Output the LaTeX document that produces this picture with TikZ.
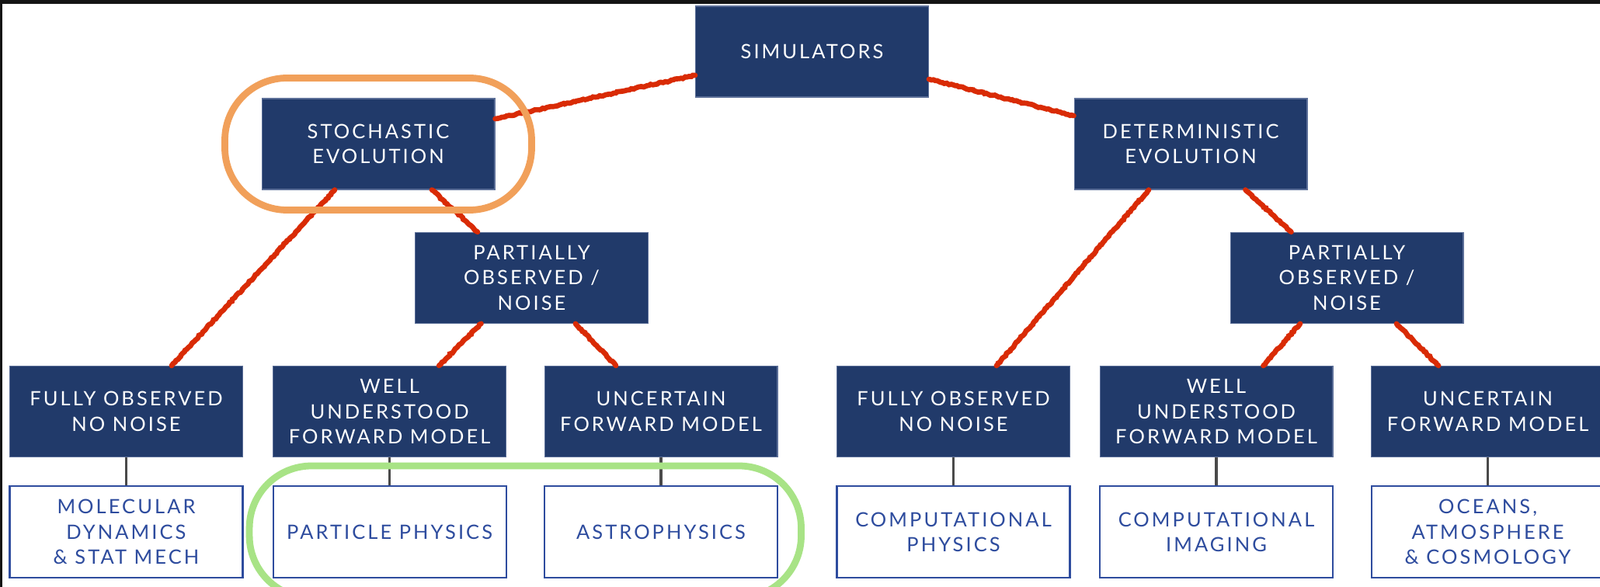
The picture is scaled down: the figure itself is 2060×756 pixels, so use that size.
\documentclass[tikz,border=0pt]{standalone}
\usepackage{fontspec}
\setmainfont{Lato}[LetterSpace=12.0]
\usepackage{tikz}
\usetikzlibrary{positioning,fit,decorations.pathmorphing}

\definecolor{navybox}{HTML}{213A6A}
\definecolor{navyedge}{HTML}{5C6F98}
\definecolor{leafblue}{HTML}{2E4C9E}
\definecolor{crayon}{HTML}{D92B05}
\definecolor{stemgray}{HTML}{4A4A4A}
\definecolor{ringorange}{HTML}{F1A05A}
\definecolor{ringgreen}{HTML}{A8E386}
\definecolor{framedark}{HTML}{141414}

\begin{document}
\begin{tikzpicture}[x=0.02cm, y=-0.02cm,
  cat/.style={draw=navyedge, line width=0.6pt, fill=navybox, text=white,
              minimum width=6cm, minimum height=2.34cm, align=center,
              inner sep=0pt, font=\fontsize{14.5}{18.4}\selectfont},
  leaf/.style={draw=leafblue, line width=1.2pt, fill=white, text=leafblue,
               minimum width=6cm, minimum height=2.36cm, align=center,
               inner sep=0pt, font=\fontsize{14.5}{18.4}\selectfont},
  crayonline/.style={draw=crayon, line width=3.8pt, line cap=round, decorate,
                     decoration={random steps, segment length=1.5pt, amplitude=0.5pt}},
  stem/.style={draw=stemgray, line width=1.8pt},
  ring/.style={draw=#1, line width=5pt, rounded corners=1.6cm, inner sep=0pt},
  node distance=0.72cm
]
  \useasboundingbox (0,0) rectangle (2060,756);
  \clip (0,0) rectangle (2060,756);

  % screen frame
  \fill[framedark] (0,0) rectangle (2060,5);
  \fill[framedark] (0,0) rectangle (3,756);

  % category boxes
  \node[cat] (sim) at (1045.5,66.5) {SIMULATORS};
  \node[cat] (stoch) at (487,185.5) {STOCHASTIC\\EVOLUTION};
  \node[cat] (det) at (1533,185.5) {DETERMINISTIC\\EVOLUTION};
  \node[cat] (poL) at (684.5,357.8) {PARTIALLY\\OBSERVED /\\NOISE};
  \node[cat] (poR) at (1734,357.8) {PARTIALLY\\OBSERVED /\\NOISE};

  \node[cat] (fullL) at (162.5,530) {FULLY OBSERVED\\NO NOISE};
  \node[cat] (wellL) at (501.6,530) {WELL\\UNDERSTOOD\\FORWARD MODEL};
  \node[cat] (uncL) at (851,530) {UNCERTAIN\\FORWARD MODEL};
  \node[cat] (fullR) at (1227.5,530) {FULLY OBSERVED\\NO NOISE};
  \node[cat] (wellR) at (1566,530) {WELL\\UNDERSTOOD\\FORWARD MODEL};
  \node[cat] (uncR) at (1915.6,530) {UNCERTAIN\\FORWARD MODEL};

  % application fields
  \node[leaf, below=of fullL] (molec) {MOLECULAR\\DYNAMICS\\\& STAT MECH};
  \node[leaf, below=of wellL] (particle) {PARTICLE PHYSICS};
  \node[leaf, below=of uncL] (astro) {ASTROPHYSICS};
  \node[leaf, below=of fullR] (compphys) {COMPUTATIONAL\\PHYSICS};
  \node[leaf, below=of wellR] (compimg) {COMPUTATIONAL\\IMAGING};
  \node[leaf, below=of uncR] (oceans) {OCEANS,\\ATMOSPHERE\\\& COSMOLOGY};

  \draw[stem] (fullL.south) -- (molec.north);
  \draw[stem] (wellL.south) -- (particle.north);
  \draw[stem] (uncL.south) -- (astro.north);
  \draw[stem] (fullR.south) -- (compphys.north);
  \draw[stem] (wellR.south) -- (compimg.north);
  \draw[stem] (uncR.south) -- (oceans.north);

  % crayon tree edges
  \draw[crayonline] ([yshift=-0.61cm]sim.west) -- ([yshift=0.65cm]stoch.east);
  \draw[crayonline] ([yshift=-0.71cm]sim.east) -- ([yshift=0.73cm]det.west);
  \draw[crayonline] ([xshift=-1.12cm]stoch.south) -- ([xshift=1.17cm]fullL.north);
  \draw[crayonline] ([xshift=1.38cm]stoch.south) -- ([xshift=-1.39cm]poL.north);
  \draw[crayonline] ([xshift=-1.3cm]poL.south) -- ([xshift=1.27cm]wellL.north);
  \draw[crayonline] ([xshift=1.13cm]poL.south) -- ([xshift=-1.16cm]uncL.north);
  \draw[crayonline] ([xshift=-1.08cm]det.south) -- ([xshift=1.11cm]fullR.north);
  \draw[crayonline] ([xshift=1.41cm]det.south) -- ([xshift=-1.43cm]poR.north);
  \draw[crayonline] ([xshift=-1.2cm]poR.south) -- ([xshift=1.21cm]wellR.north);
  \draw[crayonline] ([xshift=1.28cm]poR.south) -- ([xshift=-1.27cm]uncR.north);

  % highlights
  \node[ring=ringorange, fit=(stoch), inner xsep=0.94cm, inner ysep=0.52cm] (stochring) {};
  \node[ring=ringgreen, fit=(particle)(astro), inner xsep=0.59cm, inner ysep=0.5cm] (fieldring) {};
\end{tikzpicture}
\end{document}
